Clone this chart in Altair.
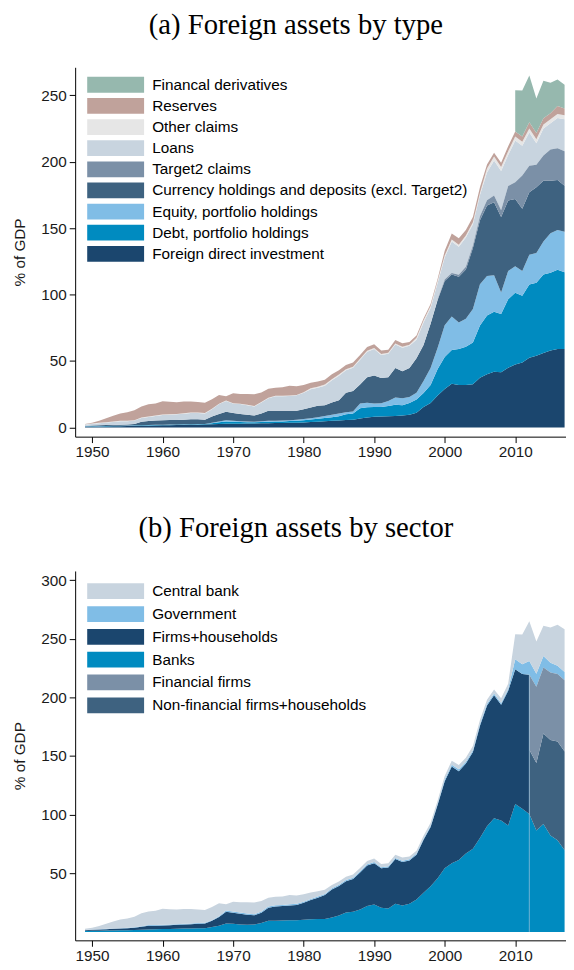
import altair as alt
import pandas as pd

years = list(range(1949, 2018))

# ---------------- Panel (a): foreign assets by type (% of GDP), layer values ----------------
fdi = [0.5, 0.6, 0.7, 0.8, 0.9, 1.0, 1.1, 1.2, 1.3, 1.4,
       1.5, 1.6, 1.7, 1.8, 1.9, 2.0, 2.1, 2.2, 2.4, 2.6,
       2.8, 2.9, 2.9, 3.0, 3.0, 3.1, 3.2, 3.3, 3.4, 3.5,
       3.6, 3.8, 4.1, 4.4, 4.7, 5.0, 5.3, 5.6, 5.9, 6.8,
       7.5, 8.0, 8.2, 8.4, 8.7, 9.0, 9.6, 11.0, 15.5, 18.5,
       24.0, 29.0, 33.0, 32.0, 32.0, 32.5, 37.5, 40.0, 42.0, 41.5,
       45.0, 47.5, 49.0, 52.5, 54.0, 56.0, 58.0, 59.0, 59.0]
debt = [0.3, 0.3, 0.3, 0.3, 0.3, 0.3, 0.3, 0.3, 0.3, 0.3,
        0.4, 0.4, 0.4, 0.4, 0.4, 0.4, 0.4, 0.4, 0.8, 1.4,
        1.8, 1.4, 1.2, 1.0, 0.9, 1.0, 1.2, 1.2, 1.2, 1.3,
        1.4, 1.6, 1.9, 2.2, 2.5, 2.8, 3.2, 4.4, 4.7, 7.7,
        7.7, 7.4, 7.2, 7.8, 8.5, 7.8, 8.9, 10.0, 10.5, 13.5,
        20.0, 24.0, 25.4, 27.1, 28.8, 31.5, 39.3, 44.2, 45.2, 43.9,
        51.6, 54.0, 50.1, 55.2, 55.0, 59.1, 58.4, 59.8, 57.8]
equity = [0.1, 0.1, 0.1, 0.1, 0.1, 0.1, 0.1, 0.1, 0.1, 0.1,
          0.1, 0.1, 0.1, 0.1, 0.1, 0.1, 0.1, 0.1, 0.4, 0.6,
          0.8, 0.7, 0.6, 0.5, 0.5, 0.6, 0.6, 0.6, 0.6, 0.7,
          0.8, 0.9, 1.0, 1.2, 1.4, 1.7, 2.0, 1.5, 1.4, 3.5,
          3.4, 2.7, 2.9, 3.7, 5.3, 5.2, 4.5, 5.2, 8.9, 12.8,
          16.0, 24.0, 25.1, 19.9, 21.0, 25.2, 31.0, 29.8, 27.3, 16.2,
          21.1, 19.9, 18.6, 22.4, 22.3, 24.9, 29.7, 29.8, 30.6]
currency = [0.3, 0.5, 0.6, 0.6, 0.6, 0.6, 0.7, 1.1, 2.7, 3.1,
            3.2, 3.3, 3.5, 3.4, 3.5, 3.7, 3.6, 3.2, 4.6, 5.5,
            6.5, 5.9, 5.4, 5.1, 4.7, 5.9, 7.6, 7.5, 7.4, 7.1,
            6.8, 7.5, 8.1, 8.5, 8.2, 9.3, 10.0, 14.7, 15.4, 14.4,
            19.2, 21.0, 19.0, 17.9, 22.3, 20.3, 21.8, 26.0, 27.1, 33.2,
            36.0, 33.3, 31.7, 34.5, 37.2, 45.8, 48.2, 53.0, 55.1, 56.9,
            53.1, 50.6, 46.9, 46.9, 49.5, 45.7, 39.6, 37.6, 34.6]
target2 = [None] * 50 + [0.5, 1.0, 1.0, 1.5, 2.0, 2.0, 3.0, 4.0, 5.0, 5.0,
                         11.0, 12.5, 25.0, 20.0, 17.0, 19.0, 23.5, 24.0, 26.0]
loans = [1.0, 1.2, 1.5, 1.9, 2.3, 2.7, 2.5, 2.5, 2.8, 3.0,
         3.5, 4.0, 3.9, 4.2, 4.5, 4.7, 4.7, 4.7, 5.6, 7.5,
         8.1, 7.1, 7.5, 7.2, 6.7, 8.2, 9.4, 10.9, 10.9, 11.1,
         11.6, 12.4, 13.6, 13.6, 14.7, 16.8, 18.5, 16.8, 17.6, 18.6,
         19.2, 19.9, 17.3, 17.7, 17.7, 17.7, 16.7, 13.8, 17.0, 12.0,
         12.5, 16.7, 23.8, 21.0, 22.0, 16.0, 16.0, 21.0, 26.4, 29.5,
         23.2, 31.5, 22.4, 25.0, 16.2, 20.3, 19.8, 22.8, 24.0]
other = [0.3, 0.3, 0.3, 0.3, 0.3, 0.3, 0.3, 0.3, 0.3, 0.3,
         0.3, 0.3, 0.3, 0.3, 0.3, 0.3, 0.3, 0.3, 0.3, 0.3,
         0.3, 0.3, 0.3, 0.3, 0.3, 0.3, 0.3, 0.3, 0.3, 0.3,
         0.3, 0.3, 0.8, 0.8, 0.8, 0.8, 0.8, 0.8, 0.8, 0.8,
         0.8, 0.8, 0.8, 0.8, 0.8, 0.8, 0.8, 1.5, 1.5, 1.5,
         1.5, 1.5, 1.5, 1.5, 1.5, 1.5, 1.5, 3.0, 3.0, 3.0,
         3.0, 3.0, 3.0, 3.0, 3.0, 3.0, 3.0, 3.0, 3.0]
reserves = [0.2, 0.5, 1.5, 3.0, 4.3, 5.5, 6.5, 7.5, 8.3, 9.2,
            9.0, 10.1, 9.4, 8.8, 8.8, 8.3, 7.9, 7.8, 7.1, 6.5,
            3.3, 7.4, 7.3, 8.1, 9.0, 7.3, 6.9, 6.2, 6.4, 7.4,
            6.5, 5.5, 4.2, 3.9, 3.7, 3.6, 3.2, 3.2, 3.2, 2.7,
            2.7, 2.8, 2.6, 2.3, 2.5, 2.6, 2.1, 1.8, 1.5, 1.5,
            1.5, 3.5, 4.5, 4.9, 4.1, 4.0, 4.3, 3.0, 2.8, 3.3,
            3.6, 3.8, 4.0, 4.7, 4.6, 4.7, 4.5, 6.0, 5.0]
derivatives = [None] * 61 + [31.0, 34.7, 35.2, 26.0, 28.3, 23.0, 20.0, 18.0]

# ---------------- Panel (b): foreign assets by sector (% of GDP), layer values ----------------
banks = [0.7, 0.9, 1.0, 1.1, 1.2, 1.3, 1.5, 1.7, 1.9, 2.1,
         2.2, 2.4, 2.5, 2.7, 2.8, 3.0, 3.1, 3.2, 4.2, 5.2,
         7.1, 6.9, 6.4, 6.0, 6.3, 7.5, 9.4, 9.6, 9.8, 10.0,
         10.0, 10.3, 10.8, 11.0, 11.0, 12.2, 14.0, 16.5, 17.2, 19.2,
         22.0, 23.4, 20.6, 20.0, 24.0, 22.6, 24.0, 27.6, 33.3, 38.9,
         45.8, 54.3, 58.5, 61.3, 66.9, 71.0, 80.0, 90.0, 97.0, 94.9,
         90.7, 109.0, 105.0, 100.6, 86.5, 92.1, 82.3, 78.1, 69.7]
firms_households = [0.6, 0.9, 1.0, 1.2, 1.4, 1.6, 1.7, 1.9, 2.4, 3.1,
                    3.1, 3.0, 3.2, 3.3, 3.5, 3.6, 3.8, 3.9, 5.2, 7.6,
                    10.1, 9.5, 9.1, 8.7, 7.8, 8.9, 11.2, 12.1, 12.2, 12.6,
                    12.9, 14.5, 16.3, 18.1, 20.4, 24.0, 25.2, 26.7, 28.0, 31.5,
                    34.7, 35.2, 33.6, 35.0, 38.1, 37.1, 36.9, 38.2, 45.2, 50.6,
                    62.7, 74.2, 82.5, 75.8, 76.7, 82.5, 95.8, 103.0, 104.8, 98.9,
                    114.9, 115.0, 115.0, 118.8] + [None] * 5
nonfinancial = [None] * 63 + [54.7, 57.5, 77.2, 81.3, 84.2, 84.2]
financial = [None] * 63 + [64.1, 65.0, 56.1, 57.6, 57.7, 60.7]
government = [0.3, 0.3, 0.3, 0.3, 0.3, 0.3, 0.3, 0.3, 0.6, 0.6,
              0.6, 0.6, 0.6, 0.6, 0.6, 0.6, 0.6, 0.6, 0.6, 0.6,
              1.0, 1.0, 1.0, 1.0, 1.0, 1.0, 1.0, 1.0, 1.0, 1.0,
              1.0, 1.0, 1.0, 1.0, 1.0, 1.0, 1.0, 1.0, 1.0, 1.0,
              1.0, 1.0, 1.0, 1.0, 1.0, 1.0, 1.0, 1.0, 1.0, 1.0,
              1.0, 1.5, 1.5, 1.5, 1.5, 1.5, 1.5, 1.5, 1.5, 1.5,
              1.5, 8.5, 8.3, 11.6, 11.2, 9.8, 8.4, 7.0, 7.0]
central_bank = [1.1, 1.4, 2.7, 4.4, 5.9, 7.3, 8.0, 9.1, 10.9, 11.6,
                12.1, 13.8, 13.0, 12.4, 12.6, 12.3, 11.6, 11.0, 11.2, 11.0,
                5.4, 8.3, 8.7, 9.5, 10.0, 9.0, 7.6, 7.3, 7.2, 7.8,
                7.1, 6.2, 5.6, 4.5, 3.6, 2.8, 2.8, 2.8, 2.8, 2.8,
                2.8, 3.0, 2.8, 2.6, 2.7, 2.7, 2.5, 2.5, 2.5, 2.5,
                2.5, 3.0, 3.5, 3.8, 3.5, 3.5, 3.5, 3.5, 3.5, 4.0,
                4.5, 21.3, 25.4, 33.9, 27.4, 25.8, 29.9, 35.0, 36.4]

# legend order (top to bottom) and colours
legend_a = ["Financal derivatives", "Reserves", "Other claims", "Loans", "Target2 claims",
            "Currency holdings and deposits (excl. Target2)", "Equity, portfolio holdings",
            "Debt, portfolio holdings", "Foreign direct investment"]
colors_a = ["#96b8ae", "#c0a29b", "#e6e6e6", "#c8d4df", "#7b90a7",
            "#3e6280", "#80bde6", "#008bc0", "#1b466e"]
legend_b = ["Central bank", "Government", "Firms+households", "Banks", "Financial firms",
            "Non-financial firms+households"]
colors_b = ["#c8d4df", "#80bde6", "#1b466e", "#008bc0", "#7b90a7", "#3e6280"]

# ---------------- stacking ----------------
stack_a = [("Foreign direct investment", fdi), ("Debt, portfolio holdings", debt),
           ("Equity, portfolio holdings", equity),
           ("Currency holdings and deposits (excl. Target2)", currency),
           ("Target2 claims", target2), ("Loans", loans), ("Other claims", other),
           ("Reserves", reserves), ("Financal derivatives", derivatives)]
rows_a = []
for i, yr in enumerate(years):
    cum = 0.0
    for name, vals in stack_a:
        v = vals[i]
        if v is None:
            continue
        rows_a.append({"year": yr, "series": name, "lower": cum, "upper": cum + v})
        cum += v
df_a = pd.DataFrame(rows_a)

rows_b = []
for i, yr in enumerate(years):
    cum = banks[i]
    rows_b.append({"year": yr, "series": "Banks", "lower": 0.0, "upper": cum})
    if firms_households[i] is not None:
        rows_b.append({"year": yr, "series": "Firms+households", "lower": cum,
                       "upper": cum + firms_households[i]})
    if nonfinancial[i] is not None:
        nf, ff = nonfinancial[i], financial[i]
        rows_b.append({"year": yr, "series": "Non-financial firms+households", "lower": cum,
                       "upper": cum + nf})
        rows_b.append({"year": yr, "series": "Financial firms", "lower": cum + nf,
                       "upper": cum + nf + ff})
    firms = firms_households[i] if firms_households[i] is not None else nonfinancial[i] + financial[i]
    cum += firms
    rows_b.append({"year": yr, "series": "Government", "lower": cum, "upper": cum + government[i]})
    cum += government[i]
    rows_b.append({"year": yr, "series": "Central bank", "lower": cum, "upper": cum + central_bank[i]})
df_b = pd.DataFrame(rows_b)

split = years.index(2012)
df_rule = pd.DataFrame({"year": [2012], "lo": [0.0],
                        "hi": [banks[split] + firms_households[split]]})

W, H = 497, 374
XDOM = [1947.6, 2017.2]
SYM = "M-3.6,-1L3.6,-1L3.6,1L-3.6,1Z"
FONT = "Liberation Sans"
FS = 15.5


def xaxis():
    return alt.X("year:Q", scale=alt.Scale(domain=XDOM, nice=False, zero=False),
                 axis=alt.Axis(values=[1950, 1960, 1970, 1980, 1990, 2000, 2010], format="d",
                               title=None, tickSize=6, labelPadding=2))


def legend(y, rowpad):
    return alt.Legend(title=None, orient="none", legendX=33, legendY=y, symbolType=SYM,
                      symbolSize=256, symbolStrokeWidth=0, symbolOpacity=1, labelFont=FONT,
                      labelFontSize=FS, labelColor="black", labelOffset=29, rowPadding=rowpad,
                      padding=0, labelLimit=400)


def title(text):
    return alt.TitleParams(text, font="Liberation Serif", fontSize=29, fontWeight="normal",
                           color="black", anchor="middle", dx=-25, offset=28)


pa = alt.Chart(df_a, title=title("(a) Foreign assets by type")).mark_area(interpolate="linear").encode(
    x=xaxis(),
    y=alt.Y("upper:Q", stack=None, scale=alt.Scale(domain=[-6.9, 271.1], nice=False, zero=False),
            axis=alt.Axis(values=[0, 50, 100, 150, 200, 250], title="% of GDP", tickSize=6,
                          labelPadding=3, titlePadding=13)),
    y2="lower:Q",
    color=alt.Color("series:N", scale=alt.Scale(domain=legend_a, range=colors_a),
                    legend=legend(9.7, 4.4)),
).properties(width=W, height=H)

area_b = alt.Chart(df_b).mark_area(interpolate="linear").encode(
    x=xaxis(),
    y=alt.Y("upper:Q", stack=None, scale=alt.Scale(domain=[-7.2, 307.8], nice=False, zero=False),
            axis=alt.Axis(values=[50, 100, 150, 200, 250, 300], title="% of GDP", tickSize=6,
                          labelPadding=3, titlePadding=13)),
    y2="lower:Q",
    color=alt.Color("series:N", scale=alt.Scale(domain=legend_b, range=colors_b),
                    legend=legend(12.5, 6.1)),
)
rule_b = alt.Chart(df_rule).mark_rule(color="#9fc3dc", strokeWidth=1, opacity=0.7).encode(
    x="year:Q", y="lo:Q", y2="hi:Q")
pb = alt.layer(area_b, rule_b, title=title("(b) Foreign assets by sector")).properties(width=W, height=H)

chart = alt.vconcat(pa, pb, spacing=55).resolve_scale(color="independent").resolve_legend(
    color="independent"
).configure(
    padding={"left": 5, "top": -3, "right": 0, "bottom": 0}
).configure_view(stroke=None).configure_axis(
    grid=False, labelFont=FONT, labelFontSize=FS, labelColor="#1a1a1a",
    titleFont=FONT, titleFontSize=FS, titleFontWeight="normal", titleColor="#1a1a1a",
    domainColor="black", tickColor="black", domainWidth=1, tickWidth=1
)

chart.save("out.html", embed_options={"renderer": "svg", "actions": False})
